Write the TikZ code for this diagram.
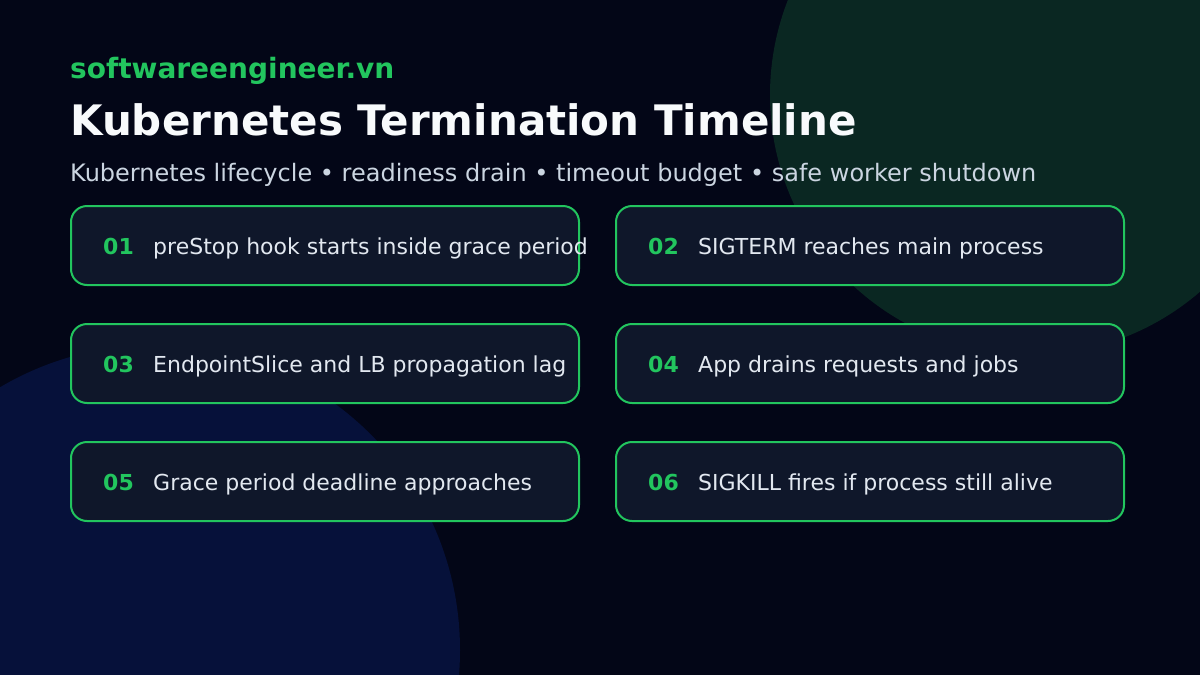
\documentclass[tikz,border=0pt]{standalone}
\usepackage{fontspec}
\setmainfont{DejaVu Sans}
\usetikzlibrary{positioning}

\definecolor{bgnavy}{HTML}{030617}
\definecolor{glowgreen}{HTML}{0A2722}
\definecolor{glowblue}{HTML}{06113A}
\definecolor{cardfill}{HTML}{0F172A}
\definecolor{accent}{HTML}{22C55E}
\definecolor{titlewhite}{HTML}{F8FAFC}
\definecolor{subgrey}{HTML}{CBD5E1}
\definecolor{cardtext}{HTML}{E2E8F0}

\tikzset{
    card/.style={draw=accent, fill=cardfill, line width=2pt, rounded corners=16pt,
        minimum width=508pt, minimum height=79pt, inner sep=0pt, outer sep=0pt},
    num/.style={text=accent, font=\fontsize{22}{26}\selectfont\bfseries, inner sep=0pt, anchor=base west},
    lbl/.style={text=cardtext, font=\fontsize{22}{26}\selectfont, inner sep=0pt, anchor=base west},
}

\begin{document}
\begin{tikzpicture}[x=1pt, y=-1pt, node distance=39pt and 37pt]
        \useasboundingbox (0,0) rectangle (1200,675);
        \fill[bgnavy] (0,0) rectangle (1200,675);
        \begin{scope}
            \clip (0,0) rectangle (1200,675);
            \fill[glowgreen] (1030,95) circle[radius=260];
            \fill[glowblue] (155,650) circle[radius=305];
        \end{scope}

        % header
        \node[text=accent, font=\fontsize{28}{32}\selectfont\bfseries, inner sep=0pt, anchor=base west]
            (site) at (70,78) {softwareengineer.vn};
        \node[text=titlewhite, font=\fontsize{42}{48}\selectfont\bfseries, inner sep=0pt, anchor=base west]
            (title) at (70,135) {Kubernetes Termination Timeline};
        \node[text=subgrey, font=\fontsize{24}{28}\selectfont, inner sep=0pt, anchor=base west]
            (sub) at (70,181) {Kubernetes lifecycle • readiness drain • timeout budget • safe worker shutdown};

        % cards
        \node[card, anchor=north west] (c1) at (71,206) {};
        \node[card, right=of c1] (c2) {};
        \node[card, below=of c1] (c3) {};
        \node[card, right=of c3] (c4) {};
        \node[card, below=of c3] (c5) {};
        \node[card, right=of c5] (c6) {};

        \node[num] (n1) at ([xshift=32pt, yshift=-9pt]c1.west) {01};
        \node[lbl] (t1) at ([xshift=82pt, yshift=-9pt]c1.west) {preStop hook starts inside grace period};
        \node[num] (n2) at ([xshift=32pt, yshift=-9pt]c2.west) {02};
        \node[lbl] (t2) at ([xshift=82pt, yshift=-9pt]c2.west) {SIGTERM reaches main process};
        \node[num] (n3) at ([xshift=32pt, yshift=-9pt]c3.west) {03};
        \node[lbl] (t3) at ([xshift=82pt, yshift=-9pt]c3.west) {EndpointSlice and LB propagation lag};
        \node[num] (n4) at ([xshift=32pt, yshift=-9pt]c4.west) {04};
        \node[lbl] (t4) at ([xshift=82pt, yshift=-9pt]c4.west) {App drains requests and jobs};
        \node[num] (n5) at ([xshift=32pt, yshift=-9pt]c5.west) {05};
        \node[lbl] (t5) at ([xshift=82pt, yshift=-9pt]c5.west) {Grace period deadline approaches};
        \node[num] (n6) at ([xshift=32pt, yshift=-9pt]c6.west) {06};
        \node[lbl] (t6) at ([xshift=82pt, yshift=-9pt]c6.west) {SIGKILL fires if process still alive};
\end{tikzpicture}
\end{document}
